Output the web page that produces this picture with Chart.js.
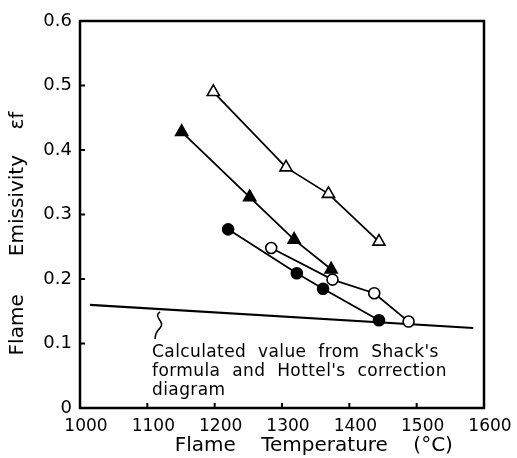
<!DOCTYPE html>
<html>
<head>
<meta charset="utf-8">
<script src="https://cdn.jsdelivr.net/npm/chart.js@4.4.1/dist/chart.umd.min.js"></script>
<style>
  html, body { margin: 0; padding: 0; background: #fff; }
  #wrap { width: 517px; height: 458px; }
</style>
</head>
<body>
<div id="wrap"><canvas id="grafico"></canvas></div>
<script>
// valores
const xTicks = [1000, 1100, 1200, 1300, 1400, 1500, 1600];
const yTicks = [0, 0.1, 0.2, 0.3, 0.4, 0.5, 0.6];

const trianguloAbertoX = [1198, 1306, 1369, 1444];
const trianguloAbertoY = [0.490, 0.373, 0.332, 0.258];

const trianguloCheioX = [1151, 1252, 1318, 1373];
const trianguloCheioY = [0.428, 0.327, 0.261, 0.215];

const circuloCheioX = [1220, 1322, 1361, 1444];
const circuloCheioY = [0.277, 0.209, 0.185, 0.136];

const circuloAbertoX = [1284, 1375, 1437, 1488];
const circuloAbertoY = [0.248, 0.199, 0.178, 0.134];

const calculadoX = [1015, 1584];
const calculadoY = [0.160, 0.124];

const notaTexto = [
  "Calculated value from Shack's",
  "formula and Hottel's correction",
  'diagram'
];

const pares = (xs, ys) => xs.map((x, i) => ({ x: x, y: ys[i] }));

const fonte = '"DejaVu Sans", sans-serif';

const serie = (dados, estilo, cheio) => ({
  data: dados,
  showLine: true,
  borderColor: '#000',
  borderWidth: 1.8,
  pointStyle: estilo,
  pointRadius: estilo === 'triangle' ? 7 : 5.5,
  pointBorderWidth: 1.6,
  pointBorderColor: '#000',
  pointBackgroundColor: cheio ? '#000' : '#fff',
  order: 1
});

// moldura, marcas internas, nota e seta ondulada
const extras = {
  id: 'extras',
  afterDraw(chart) {
    const ctx = chart.ctx;
    const area = chart.chartArea;
    const sx = chart.scales.x;
    const sy = chart.scales.y;
    ctx.save();
    ctx.strokeStyle = '#000';
    ctx.lineWidth = 2.5;
    ctx.strokeRect(area.left, area.top, area.right - area.left, area.bottom - area.top);

    ctx.lineWidth = 2;
    yTicks.slice(1, -1).forEach(v => {
      const py = sy.getPixelForValue(v);
      ctx.beginPath();
      ctx.moveTo(area.left, py);
      ctx.lineTo(area.left + 5, py);
      ctx.stroke();
    });
    xTicks.slice(1, -1).forEach(v => {
      const px = sx.getPixelForValue(v);
      ctx.beginPath();
      ctx.moveTo(px, area.bottom);
      ctx.lineTo(px, area.bottom - 5);
      ctx.stroke();
    });

    // seta ondulada até a linha calculada
    const ax = sx.getPixelForValue(1116);
    const ay = sy.getPixelForValue(0.149);
    ctx.lineWidth = 1.5;
    ctx.beginPath();
    ctx.moveTo(ax + 2, ay);
    ctx.bezierCurveTo(ax - 6, ay + 5, ax + 8, ay + 10, ax + 2, ay + 16);
    ctx.bezierCurveTo(ax - 2, ay + 20, ax - 3, ay + 23, ax - 3, ay + 27);
    ctx.stroke();

    ctx.fillStyle = '#000';
    ctx.font = '17px ' + fonte;
    ctx.letterSpacing = '0.4px';
    ctx.wordSpacing = '6px';
    ctx.textBaseline = 'middle';
    const tx = sx.getPixelForValue(1107);
    notaTexto.forEach((linha, i) => {
      ctx.fillText(linha, tx, 353 + i * 19);
    });
    ctx.restore();
  }
};

new Chart(document.getElementById('grafico'), {
  type: 'scatter',
  data: {
    datasets: [
      serie(pares(trianguloAbertoX, trianguloAbertoY), 'triangle', false),
      serie(pares(trianguloCheioX, trianguloCheioY), 'triangle', true),
      serie(pares(circuloCheioX, circuloCheioY), 'circle', true),
      serie(pares(circuloAbertoX, circuloAbertoY), 'circle', false),
      {
        data: pares(calculadoX, calculadoY),
        showLine: true,
        borderColor: '#000',
        borderWidth: 2.2,
        pointRadius: 0,
        order: 2
      }
    ]
  },
  options: {
    responsive: true,
    maintainAspectRatio: false,
    animation: false,
    layout: { padding: { top: 21, right: 33, left: 0, bottom: 0 } },
    plugins: {
      legend: { display: false },
      tooltip: { enabled: false }
    },
    scales: {
      x: {
        type: 'linear',
        min: 1000,
        max: 1600,
        afterBuildTicks: s => { s.ticks = xTicks.map(v => ({ value: v })); },
        afterFit: s => { s.height = 50; },
        grid: { display: false, drawTicks: false },
        border: { display: false },
        ticks: {
          color: '#000',
          font: { family: fonte, size: 17 },
          padding: 8,
          labelOffset: 6,
          maxRotation: 0,
          callback: v => String(v)
        },
        title: {
          display: true,
          text: '          Flame    Temperature    (°C)',
          color: '#000',
          font: { family: fonte, size: 20 },
          padding: { top: 0, bottom: 0 }
        }
      },
      y: {
        type: 'linear',
        min: 0,
        max: 0.6,
        afterBuildTicks: s => { s.ticks = yTicks.map(v => ({ value: v })); },
        afterFit: s => { s.width = 80; },
        grid: { display: false, drawTicks: false },
        border: { display: false },
        ticks: {
          color: '#000',
          font: { family: fonte, size: 18 },
          padding: 8,
          callback: v => (v === 0 ? '0' : v.toFixed(1))
        },
        title: {
          display: true,
          text: 'Flame      Emissivity    εf      ',
          color: '#000',
          font: { family: fonte, size: 20 },
          padding: { top: 6, bottom: 0 }
        }
      }
    }
  },
  plugins: [extras]
});
</script>
</body>
</html>
